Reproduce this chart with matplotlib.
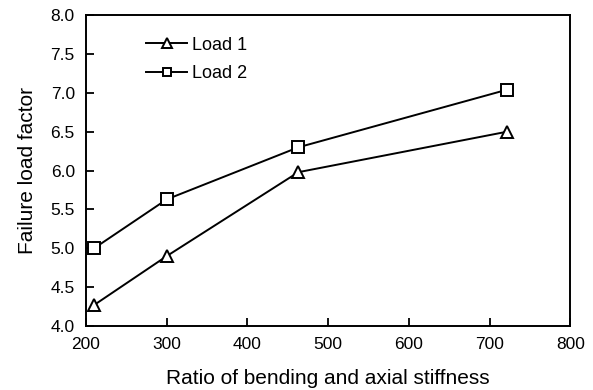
import matplotlib
matplotlib.use("Agg")
import matplotlib.pyplot as plt

plt.rcParams['font.family'] = ['Liberation Sans', 'DejaVu Sans']

ratio = [210, 300, 463, 721]
load1 = [4.27, 4.90, 5.98, 6.50]
load2 = [5.00, 5.63, 6.30, 7.04]
xticks = [200, 300, 400, 500, 600, 700, 800]
yticks = [4.0, 4.5, 5.0, 5.5, 6.0, 6.5, 7.0, 7.5, 8.0]

fig = plt.figure(figsize=(5.93, 3.90), dpi=100)
ax = fig.add_axes([0.145, 0.164, 0.817, 0.797])

ax.plot(ratio, load1, color='black', lw=1.4, marker='^', ms=9,
        mfc='white', mec='black', mew=1.4, label='Load 1')
ax.plot(ratio, load2, color='black', lw=1.4, marker='s', ms=8,
        mfc='white', mec='black', mew=1.4, label='Load 2')

ax.set_xlim(200, 800)
ax.set_ylim(4.0, 8.0)
ax.set_xticks(xticks)
ax.set_yticks(yticks)
ax.set_yticklabels([f"{v:.1f}" for v in yticks])
ax.tick_params(direction='in', length=6, width=1.3, labelsize=12.5)
ax.tick_params(axis='x', pad=8)
ax.tick_params(axis='y', pad=8)
for s in ax.spines.values():
    s.set_linewidth(1.4)

ax.set_xlabel('Ratio of bending and axial stiffness', fontsize=15, labelpad=12)
ax.set_ylabel('Failure load factor', fontsize=15, labelpad=10)

ax.legend(loc='upper left', bbox_to_anchor=(0.09, 0.983), frameon=False,
          fontsize=13, handlelength=2.3, handletextpad=0.25,
          labelspacing=0.65, markerscale=0.75)

fig.savefig('out.png', dpi=100)
